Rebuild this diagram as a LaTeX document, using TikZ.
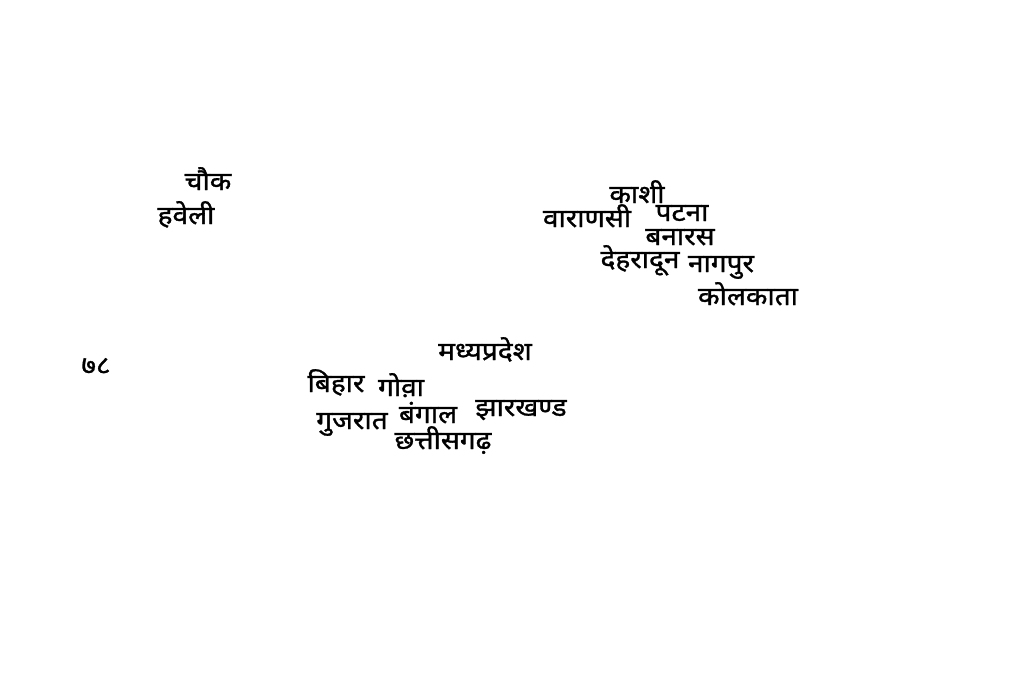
\documentclass[tikz,border=0pt]{standalone}
\usepackage{fontspec}
\newfontfamily\deva[Script=Devanagari,FakeBold=1.2,FakeStretch=1.1]{Noto Sans}
\begin{document}
\begin{tikzpicture}[x=1pt,y=-1pt,
  word/.style={inner sep=0pt,anchor=base,font=\deva\fontsize{25.5}{30}\selectfont,text=black}]
\useasboundingbox[fill=white] (0,0) rectangle (1024,682);
\node[word] (chowk) at (208,190) {चौक};
\node[word] (haveli) at (186,224) {हवेली};
\node[word] (n78) at (96,374) {७८};
\node[word] (kashi) at (637,203) {काशी};
\node[word] (varanasi) at (587,227) {वाराणसी};
\node[word] (patna) at (682,221) {पटना};
\node[word] (banaras) at (680,245) {बनारस};
\node[word] (dehradun) at (640,268) {देहरादून};
\node[word] (nagpur) at (721,272) {नागपुर};
\node[word] (kolkata) at (748,305) {कोलकाता};
\node[word] (mp) at (485,360) {मध्यप्रदेश};
\node[word] (bihar) at (336,392) {बिहार};
\node[word] (goa) at (401,396) {गोव़ा};
\node[word] (jharkhand) at (521,416) {झारखण्ड};
\node[word] (gujarat) at (352,429) {गुजरात};
\node[word] (bengal) at (428,423) {बंगाल};
\node[word] (chhattisgarh) at (443,449) {छत्तीसगढ़};
\end{tikzpicture}
\end{document}
